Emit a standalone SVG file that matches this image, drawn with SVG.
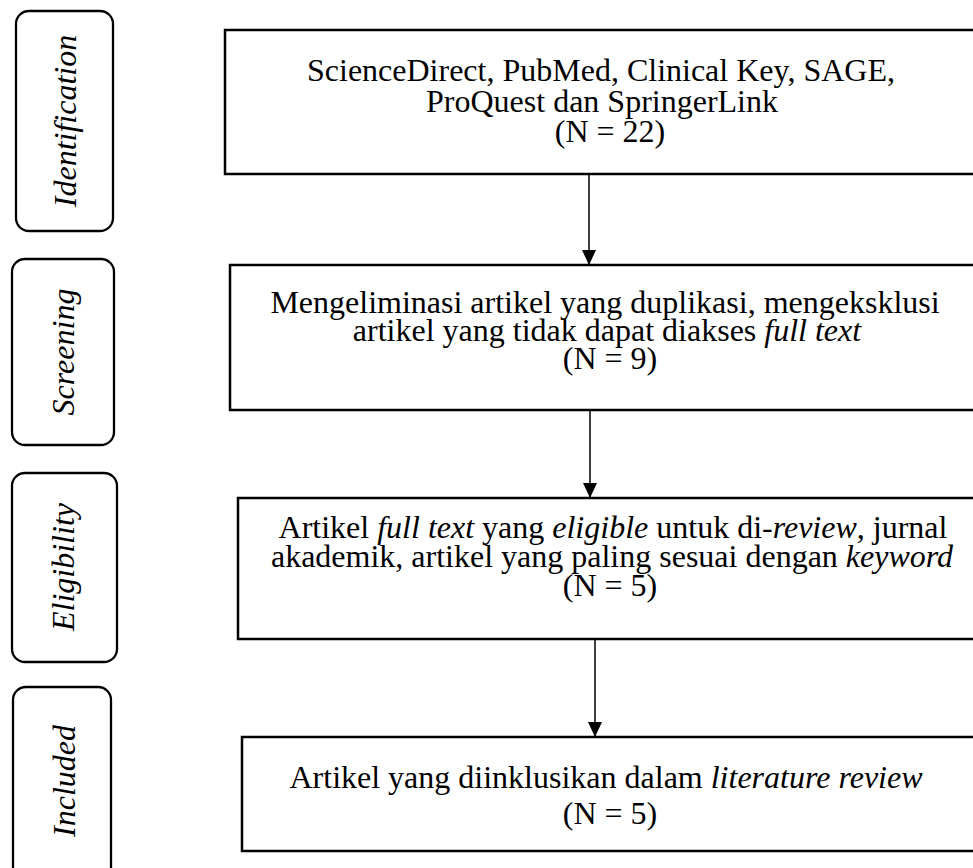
<svg xmlns="http://www.w3.org/2000/svg" width="973" height="868" viewBox="0 0 973 868">
  <style>
    .stage { fill: #ffffff; stroke: #000000; stroke-width: 2.3; }
    .box { fill: #ffffff; stroke: #000000; stroke-width: 2.5; }
    .lbl { font-family: "Liberation Serif", "Times New Roman", serif; font-size: 32px; font-style: italic; fill: #000000; text-anchor: middle; }
    .txt { font-family: "Liberation Serif", "Times New Roman", serif; font-size: 32px; fill: #000000; text-anchor: middle; }
    .it { font-style: italic; }
    .conn { stroke: #000000; stroke-width: 1.5; fill: none; }
  </style>
  <defs>
    <marker id="arrow" markerUnits="userSpaceOnUse" markerWidth="16" markerHeight="16" viewBox="0 0 16 16" refX="15" refY="8" orient="auto">
      <path d="M0,1 L15,8 L0,15 Z" fill="#000000"/>
    </marker>
  </defs>
  <rect width="973" height="868" fill="#ffffff"/>

  <g id="stage-identification">
    <rect class="stage" x="16" y="11" width="97" height="220" rx="13"/>
    <text class="lbl" transform="translate(76,121) rotate(-90)">Identification</text>
  </g>
  <g id="stage-screening">
    <rect class="stage" x="12" y="259" width="102" height="186" rx="13"/>
    <text class="lbl" transform="translate(74,352) rotate(-90)">Screening</text>
  </g>
  <g id="stage-eligibility">
    <rect class="stage" x="12" y="473" width="105" height="189" rx="13"/>
    <text class="lbl" transform="translate(74,567) rotate(-90)">Eligibility</text>
  </g>
  <g id="stage-included">
    <rect class="stage" x="13" y="687" width="98" height="200" rx="13"/>
    <text class="lbl" transform="translate(75,781) rotate(-90)">Included</text>
  </g>

  <g id="connectors">
    <line class="conn" x1="589" y1="174" x2="589" y2="265" marker-end="url(#arrow)"/>
    <line class="conn" x1="590" y1="410" x2="590" y2="498" marker-end="url(#arrow)"/>
    <line class="conn" x1="595" y1="639" x2="595" y2="737" marker-end="url(#arrow)"/>
  </g>

  <g id="node-identification">
    <rect class="box" x="225" y="30" width="760" height="144"/>
    <text class="txt" x="601" y="81">ScienceDirect, PubMed, Clinical Key, SAGE,</text>
    <text class="txt" x="602" y="112">ProQuest dan SpringerLink</text>
    <text class="txt" x="610" y="142">(N = 22)</text>
  </g>

  <g id="node-screening">
    <rect class="box" x="230" y="265" width="760" height="145"/>
    <text class="txt" x="605" y="313">Mengeliminasi artikel yang duplikasi, mengeksklusi</text>
    <text class="txt" x="607" y="341">artikel yang tidak dapat diakses <tspan class="it">full text</tspan></text>
    <text class="txt" x="610" y="369">(N = 9)</text>
  </g>

  <g id="node-eligibility">
    <rect class="box" x="238" y="498" width="760" height="141"/>
    <text class="txt" x="613" y="538">Artikel <tspan class="it">full text</tspan> yang <tspan class="it">eligible</tspan> untuk di-<tspan class="it">review</tspan>, jurnal</text>
    <text class="txt" x="612" y="567">akademik, artikel yang paling sesuai dengan <tspan class="it">keyword</tspan></text>
    <text class="txt" x="610" y="596">(N = 5)</text>
  </g>

  <g id="node-included">
    <rect class="box" x="242" y="737" width="745" height="114"/>
    <text class="txt" x="606" y="788">Artikel yang diinklusikan dalam <tspan class="it">literature review</tspan></text>
    <text class="txt" x="610" y="824">(N = 5)</text>
  </g>
</svg>
